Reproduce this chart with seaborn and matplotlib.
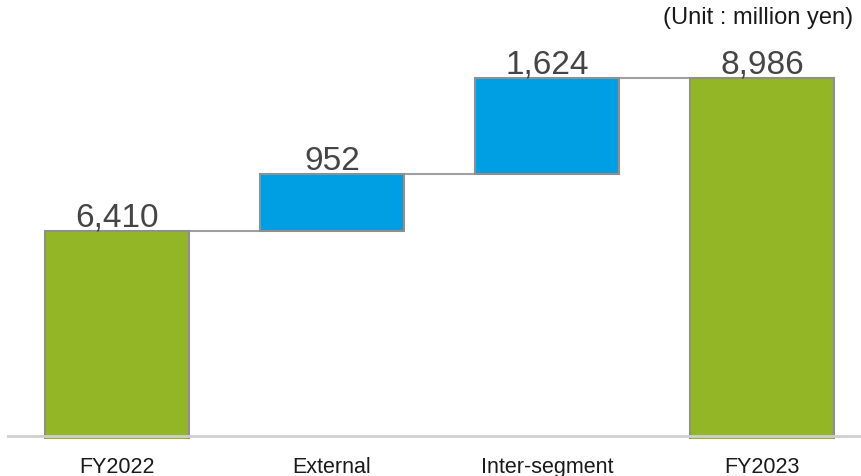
import matplotlib
matplotlib.use("Agg")
import matplotlib.pyplot as plt
import seaborn as sns
import pandas as pd

categories = ["FY2022", "External", "Inter-segment", "FY2023"]
values = [6410, 952, 1624, 8986]
kinds = ["total", "delta", "delta", "total"]
labels = ["6,410", "952", "1,624", "8,986"]

sns.set_theme(style="white")
plt.rcParams["font.family"] = ["Liberation Sans", "DejaVu Sans"]

GREEN = "#92B626"
BLUE = "#009FE3"
EDGE = "#8F8F8F"

W, H = 861, 477
fig = plt.figure(figsize=(W / 100, H / 100), dpi=100)
ax = fig.add_axes([7 / W, (H - 440) / H, (W - 7) / W, 440 / H])

# compute bottoms / tops
bottoms, tops = [], []
running = 0
for v, k in zip(values, kinds):
    if k == "total":
        bottoms.append(0)
        tops.append(v)
        running = v
    else:
        bottoms.append(running)
        running += v
        tops.append(running)

df = pd.DataFrame({"cat": categories, "val": values, "kind": kinds})
tot = df[df.kind == "total"]
sns.barplot(data=tot, x="cat", y="val", order=categories, color=GREEN,
            width=0.67, edgecolor=EDGE, linewidth=1.5, saturation=1, ax=ax, zorder=2)
for i, k in enumerate(kinds):
    if k == "delta":
        ax.bar(i, values[i], bottom=bottoms[i], width=0.67, color=BLUE,
               edgecolor=EDGE, linewidth=1.5, zorder=2)

# connectors
hw = 0.67 / 2
for i in range(len(categories) - 1):
    ax.plot([i + hw, i + 1 - hw], [tops[i], tops[i]], color="#A0A0A0", lw=1.5, zorder=1)

# value labels
for i, lab in enumerate(labels):
    ax.annotate(lab, (i, tops[i]), xytext=(0, 4), textcoords="offset points",
                ha="center", va="baseline", fontsize=24, color="#454545")

ax.set_xlim(-0.5116, 3.4605)
ax.set_ylim(2907, 10317)
ax.axhline(2957, color="#CFCFCF", lw=2, zorder=3)

for s in ax.spines.values():
    s.set_visible(False)
ax.set_yticks([])
ax.set_xlabel("")
ax.set_ylabel("")
ax.tick_params(axis="x", length=0, pad=12.5, labelsize=15.5, labelcolor="#1a1a1a")

fig.text(853 / W, 1 - 18 / H, "(Unit : million yen)", ha="right", va="center",
         fontsize=17, color="#1a1a1a")

fig.savefig("out.png", dpi=100)
